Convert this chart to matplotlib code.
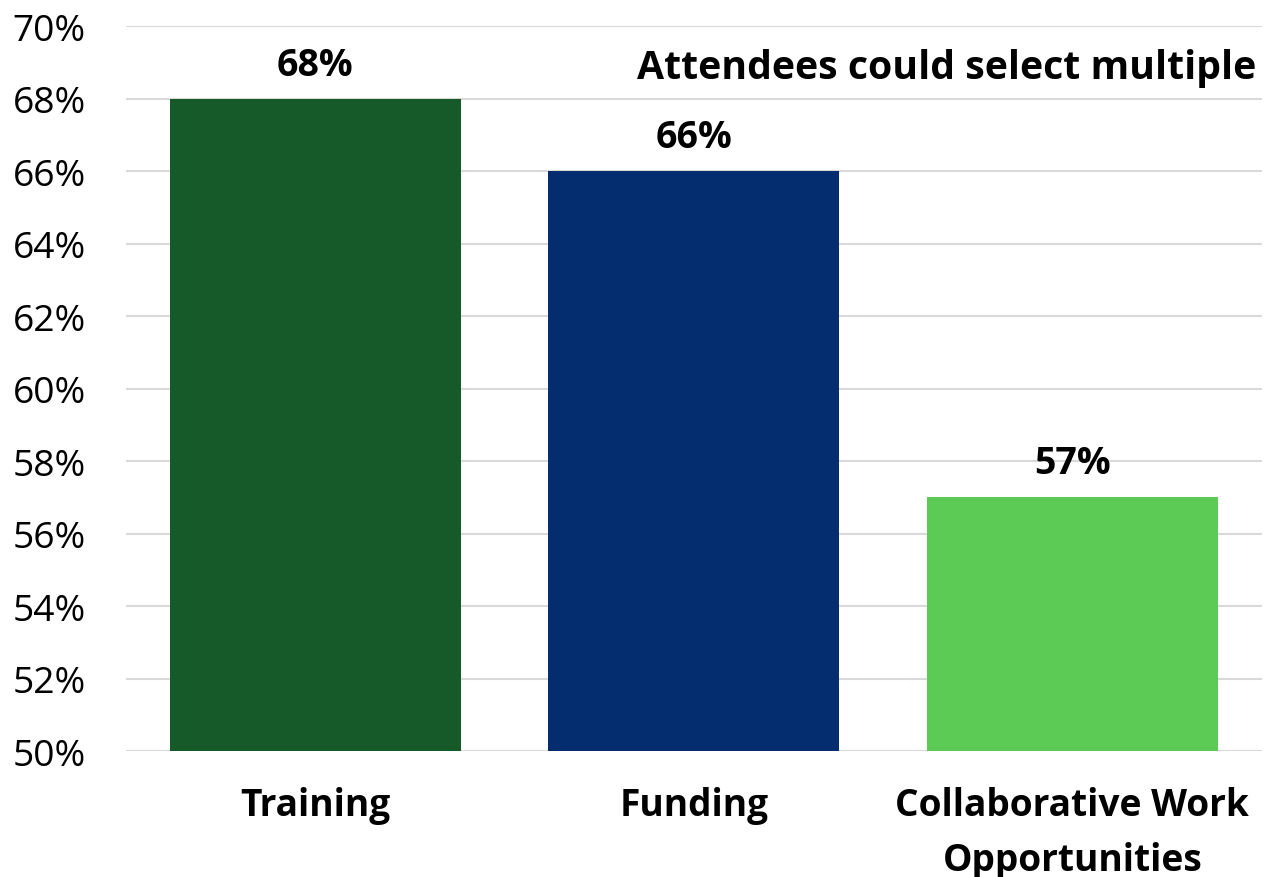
import matplotlib.pyplot as plt
from matplotlib.ticker import FuncFormatter

categories = ["Training", "Funding", "Collaborative Work\nOpportunities"]
values = [68, 66, 57]
colors = ["#175A2A", "#032D6E", "#5BCB55"]
y_ticks = list(range(50, 71, 2))
note = "Attendees could select multiple"

plt.rcParams["font.family"] = ["Open Sans", "DejaVu Sans"]

fig = plt.figure(figsize=(12.66, 8.78), dpi=100)
ax = fig.add_axes([0.0995, 0.1435, 0.897, 0.8257])

x = range(len(categories))
ax.bar(x, values, width=0.768, color=colors, zorder=3)

for xi, v in zip(x, values):
    ax.annotate(f"{v}%", (xi, v), xytext=(0, 24.5), textcoords="offset points",
                ha="center", va="center", fontsize=27, fontweight="bold")

ax.set_xlim(-0.5, 2.5)
ax.set_ylim(50, 70)
ax.set_yticks(y_ticks)
ax.yaxis.set_major_formatter(FuncFormatter(lambda v, _: f"{v:.0f}%"))
ax.set_xticks(list(x))
ax.set_xticklabels(categories, fontsize=26.7, fontweight="bold", linespacing=1.6)
ax.tick_params(axis="y", length=0, pad=29, labelsize=26.7)
ax.tick_params(axis="x", length=0, pad=25)
ax.grid(axis="y", color="#D9D9D9", linewidth=1.5, zorder=0)
for side in ax.spines.values():
    side.set_visible(False)

ax.text(0.9956, 0.943, note, transform=ax.transAxes, ha="right", va="center",
        fontsize=28.3, fontweight="bold")

fig.savefig("out.png", dpi=100)
